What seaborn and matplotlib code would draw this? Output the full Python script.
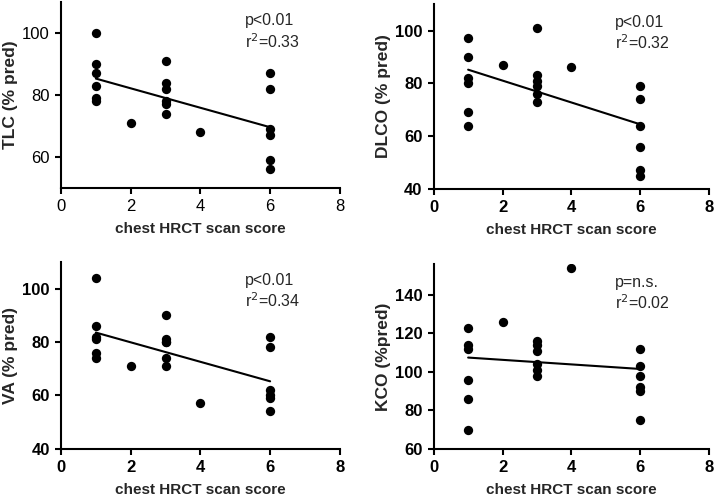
import matplotlib
matplotlib.use("Agg")
import matplotlib.pyplot as plt
import seaborn as sns
import pandas as pd

sns.set_theme(style="ticks")
plt.rcParams["font.family"] = ["Liberation Sans", "DejaVu Sans"]

# x = chest HRCT scan score, shared by all panels
score = [1, 1, 1, 1, 1, 1, 2, 3, 3, 3, 3, 3, 3, 4, 6, 6, 6, 6, 6, 6]

tlc  = [100, 90, 87, 83, 79, 78, 71, 91, 84, 82, 78, 77, 74, 68, 87, 82, 69, 67, 59, 56]
dlco = [97, 90, 82, 80, 69, 64, 87, 101, 83, 81, 79, 76, 73, 86, 79, 74, 64, 56, 47, 45]
va   = [104, 86, 82, 81, 76, 74, 71, 90, 81, 80, 80, 74, 71, 57, 82, 78, 62, 60, 59, 54]
kco  = [123, 114, 112, 96, 86, 70, 126, 116, 114, 111, 104, 101, 98, 154, 112, 103, 98, 92, 90, 75]

ylabels = ["TLC (% pred)", "DLCO (% pred)", "VA (% pred)", "KCO (%pred)"]
pvals   = ["p<0.01", "p<0.01", "p<0.01", "p=n.s."]
r2vals  = ["0.33", "0.32", "0.34", "0.02"]
ylims   = [(50, 110), (40, 110), (40, 110), (60, 156)]
yticks  = [[60, 80, 100], [40, 60, 80, 100], [40, 60, 80, 100], [60, 80, 100, 120, 140]]
boldticks = [False, True, True, True]

positions = [
    [0.0853, 0.6217, 0.390, 0.374],
    [0.6066, 0.620, 0.385, 0.3716],
    [0.0853, 0.0972, 0.390, 0.376],
    [0.6066, 0.0966, 0.385, 0.372],
]

fig = plt.figure(figsize=(7.15, 4.97), dpi=100)

for i, yvals in enumerate([tlc, dlco, va, kco]):
    ax = fig.add_axes(positions[i])
    df = pd.DataFrame({"score": score, "val": yvals})
    sns.regplot(data=df, x="score", y="val", ci=None, ax=ax,
                scatter_kws={"s": 45, "color": "black", "linewidths": 0, "alpha": 1},
                line_kws={"color": "black", "lw": 1.5})
    ax.set_xlim(0, 8)
    ax.set_ylim(*ylims[i])
    ax.set_xticks([0, 2, 4, 6, 8])
    ax.set_yticks(yticks[i])
    for s in ["top", "right"]:
        ax.spines[s].set_visible(False)
    for s in ["left", "bottom"]:
        ax.spines[s].set_linewidth(1.5)
        ax.spines[s].set_color("black")
    ax.tick_params(direction="out", length=4.5, width=1.5, colors="black", labelsize=12)
    w = "bold" if boldticks[i] else "normal"
    for lab in ax.get_xticklabels() + ax.get_yticklabels():
        lab.set_fontweight(w)
    ax.set_xlabel("chest HRCT scan score", fontsize=11, fontweight="bold", labelpad=6)
    ax.set_ylabel(ylabels[i], fontsize=12.5, fontweight="bold", labelpad=3)
    ax.text(0.66, 0.90, pvals[i], transform=ax.transAxes, fontsize=11.5, va="center")
    ax.text(0.66, 0.79, "r$^2$=" + r2vals[i], transform=ax.transAxes, fontsize=11.5, va="center")

fig.savefig("out.png", dpi=100)
